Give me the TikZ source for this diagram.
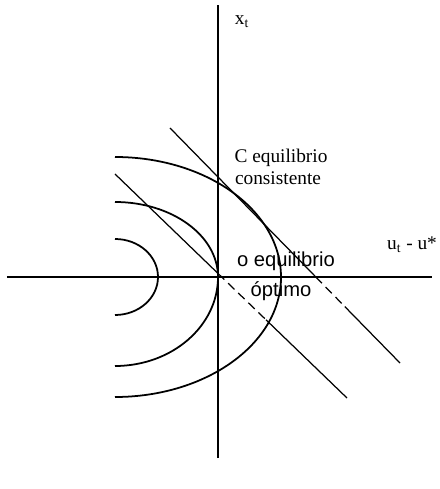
\documentclass[tikz,border=0pt]{standalone}
\usepackage{fontspec}
\setmainfont{Liberation Serif}
\newfontfamily\optfont{Liberation Sans}
\usepackage{tikz}
\usetikzlibrary{calc}

\begin{document}
\begin{tikzpicture}[x=0.2mm,y=0.2mm,
  axis/.style={line width=1.6pt},
  curve/.style={line width=1pt},
  tline/.style={line width=0.7pt},
  lbl/.style={font=\fontsize{11}{12}\selectfont,inner sep=0pt},
  optlbl/.style={font=\optfont\fontsize{11.5}{12}\selectfont,inner sep=0pt}]
  \useasboundingbox (-218,-212) rectangle (222,277);

  % axes
  \draw[axis] (0,-181) -- (0,272);
  \draw[axis] (-211,0) -- (214,0);

  % level curves
  \draw[curve] (-103,38) arc[start angle=90,end angle=-90,x radius=43,y radius=38];
  \draw[curve] (-103,75) arc[start angle=90,end angle=0,x radius=103,y radius=75]
    arc[start angle=0,end angle=-90,x radius=103,y radius=89];
  \draw[curve] (-103,120) arc[start angle=90,end angle=-90,x radius=166,y radius=120];

  % optimal line
  \coordinate (l1a) at (-103,103);
  \coordinate (l1b) at (129,-121);
  \draw[tline] (l1a) -- ($(l1a)!0.444!(l1b)$);
  \draw[tline,dashed,dash pattern=on 5pt off 3pt] ($(l1a)!0.444!(l1b)$) -- ($(l1a)!0.651!(l1b)$);
  \draw[tline] ($(l1a)!0.651!(l1b)$) -- (l1b);

  % consistent line
  \coordinate (l2a) at (-48,149);
  \coordinate (l2b) at (182,-86);
  \draw[tline] (l2a) -- ($(l2a)!0.634!(l2b)$);
  \draw[tline,dashed,dash pattern=on 5pt off 3pt] ($(l2a)!0.634!(l2b)$) -- ($(l2a)!0.76!(l2b)$);
  \draw[tline] ($(l2a)!0.76!(l2b)$) -- (l2b);

  % labels
  \node[lbl] (xlab) at (24,255) {x\textsubscript{t}};
  \node[lbl] (ulab) at (194,32) {u\textsubscript{t} - u*};
  \node[lbl] (cons1) at (63,119) {C equilibrio};
  \node[lbl] (cons2) at (60,99) {consistente};
  \node[optlbl] (opt1) at (68,16) {o equilibrio};
  \node[optlbl] (opt2) at (63,-14) {óptimo};
\end{tikzpicture}
\end{document}
